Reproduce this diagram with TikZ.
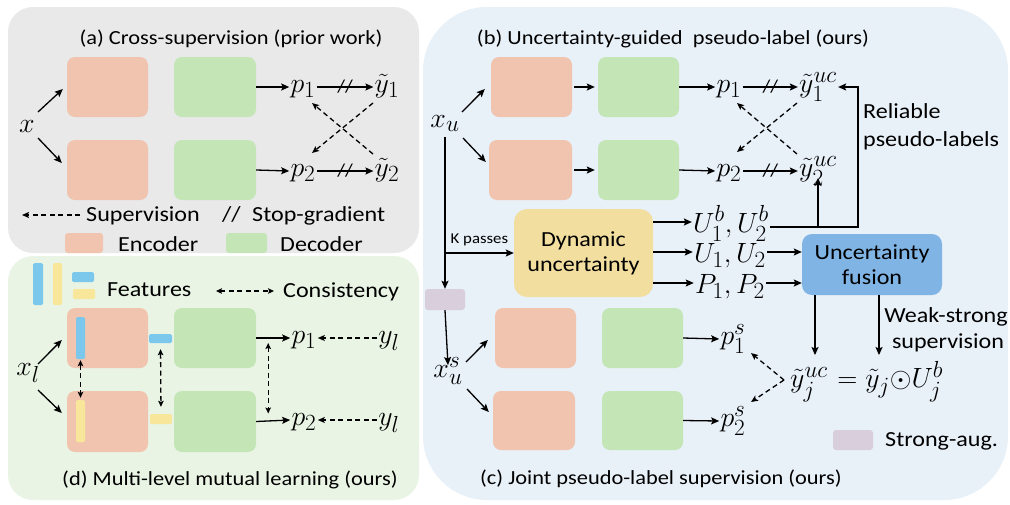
\documentclass[tikz,border=0pt]{standalone}
\usepackage[no-math]{fontspec}
\setmainfont{Carlito}[FakeStretch=1.12]
\usepackage{amsmath}
\usetikzlibrary{arrows.meta,calc}

\definecolor{encC}{HTML}{F0C4AE}
\definecolor{decC}{HTML}{C4E6B6}
\definecolor{panA}{HTML}{E9E9E9}
\definecolor{panD}{HTML}{E9F4E4}
\definecolor{panB}{HTML}{E8F0F8}
\definecolor{dynC}{HTML}{F2DE9E}
\definecolor{fusC}{HTML}{80B4E4}
\definecolor{augC}{HTML}{D8CEDC}
\definecolor{featB}{HTML}{7CC8EC}
\definecolor{featY}{HTML}{F8E69A}

\tikzset{
  blk/.style={rounded corners=8pt, inner sep=0pt},
  encbox/.style={blk, fill=encC, minimum width=81pt, minimum height=60pt},
  decbox/.style={blk, fill=decC, minimum width=82pt, minimum height=60pt},
  bar/.style={rounded corners=1.5pt, inner sep=0pt},
  % math labels: 24.88pt Computer Modern, enlarged by the node scale
  mth/.style={font=\fontsize{24.88}{30}\selectfont, scale=1.12, inner sep=1pt, text height=10pt, text depth=0pt},
  mthU/.style={mth, text height=18pt},
  lbl/.style={font=\fontsize{21.5}{26}\selectfont, inner sep=0pt},
  ttl/.style={font=\fontsize{20}{24}\selectfont, inner sep=0pt, anchor=base},
  small/.style={font=\fontsize{15}{18}\selectfont, inner sep=0pt},
  arr/.style={line width=1.3pt, -{Stealth[length=8pt,width=7pt,inset=1.5pt]}},
  supv/.style={line width=1.3pt, dash pattern=on 5pt off 3.5pt, -{Stealth[length=7pt,width=6pt,inset=1.5pt]}},
  cons/.style={line width=1.3pt, dash pattern=on 5pt off 3.5pt,
    {Stealth[length=6pt,width=5.5pt,inset=1.2pt]}-{Stealth[length=6pt,width=5.5pt,inset=1.2pt]}},
  sgmark/.style={font=\fontsize{18}{20}\selectfont, inner sep=0pt},
}

\begin{document}
\begin{tikzpicture}[x=1pt,y=-1pt]
\useasboundingbox (0,0) rectangle (1010,504);

% panel backgrounds
\fill[panA, rounded corners=25pt] (8,7) rectangle (419,253);
\fill[panD, rounded corners=25pt] (8,256) rectangle (419,500);
\fill[panB, rounded corners=64pt] (423,7) rectangle (1008,500);

% ---------------- (a) cross-supervision ----------------
\node[ttl] (ta) at (231,44.5) {(a) Cross-supervision (prior work)};
\node[encbox] (ae1) at (107.5,87) {};
\node[encbox] (ae2) at (107.5,170) {};
\node[decbox] (ad1) at (215,87) {};
\node[decbox] (ad2) at (215,170) {};
\node[mth] (ax) at (27,127) {$x$};
\node[mth] (ap1) at (303,87) {$p_1$};
\node[mth] (ap2) at (303,171) {$p_2$};
\node[mth] (ay1) at (387,87) {$\tilde{y}_1$};
\node[mth] (ay2) at (387,171) {$\tilde{y}_2$};

\draw[arr] ($(ax)+(11,-15)$) -- ($(ae1.west)+(-4,2)$);
\draw[arr] ($(ax)+(11,11)$) -- ($(ae2.west)+(-5,-7)$);
\draw[arr] (ad1.east) -- (ap1.west);
\draw[arr] (ad2.east) -- (ap2.west);
\draw[arr] (ap1.east) -- node[sgmark] (sga1) {//} (ay1.west);
\draw[arr] (ap2.east) -- node[sgmark] (sga2) {//} (ay2.west);
\draw[supv] ($(ay1)+(-14,16)$) -- ($(ap2)+(9,-18)$);
\draw[supv] ($(ay2)+(-14,-17)$) -- ($(ap1)+(9,16)$);

% legend of (a)
\coordinate (ls1) at (80,215);
\coordinate (ls0) at (22,215);
\draw[supv] (ls1) -- (ls0);
\node[lbl, anchor=base west] (lsup) at (86,221) {Supervision};
\node[lbl, anchor=base west] (lsg) at (222,221) {//};
\node[lbl, anchor=base west] (lstop) at (252,221) {Stop-gradient};
\node[bar, fill=encC, minimum width=38pt, minimum height=20pt, rounded corners=3pt] (lenc) at (84,243) {};
\node[lbl, anchor=base west] (lenct) at (118,251) {Encoder};
\node[bar, fill=decC, minimum width=41pt, minimum height=20pt, rounded corners=3pt] (ldec) at (246.5,243) {};
\node[lbl, anchor=base west] (ldect) at (280,251) {Decoder};

% ---------------- (d) multi-level mutual learning ----------------
\node[bar, fill=featB, minimum width=10pt, minimum height=42pt] (lfb1) at (38,284) {};
\node[bar, fill=featY, minimum width=9pt, minimum height=42pt] (lfy1) at (57.5,284) {};
\node[bar, fill=featB, minimum width=22pt, minimum height=10pt] (lfb2) at (83,277) {};
\node[bar, fill=featY, minimum width=22pt, minimum height=10pt] (lfy2) at (84,294) {};
\node[lbl, anchor=base west] (lfeat) at (107,296) {Features};
\coordinate (lc0) at (216,291);
\coordinate (lc1) at (274,291);
\draw[cons] (lc0) -- (lc1);
\node[lbl, anchor=base west] (lcons) at (283,297) {Consistency};

\node[encbox] (de1) at (107.5,338) {};
\node[encbox, minimum height=61pt] (de2) at (107.5,421.5) {};
\node[decbox] (dd1) at (215,338) {};
\node[decbox, minimum height=61pt] (dd2) at (215,421.5) {};
\node[bar, fill=featB, minimum width=9pt, minimum height=42pt] (fb1) at (80.5,338) {};
\node[bar, fill=featY, minimum width=9pt, minimum height=42pt] (fy1) at (80.5,421) {};
\node[bar, fill=featB, minimum width=23pt, minimum height=9pt] (fb2) at (160.5,338.5) {};
\node[bar, fill=featY, minimum width=22pt, minimum height=10pt] (fy2) at (161,419) {};
\node[mth] (dxl) at (28,370) {$x_l$};
\node[mth] (dp1) at (304,338) {$p_1$};
\node[mth] (dp2) at (304,420) {$p_2$};
\node[mth] (dyl1) at (389,338) {$y_l$};
\node[mth] (dyl2) at (389,420) {$y_l$};

\draw[arr] ($(dxl)+(10,-6)$) -- ($(de1.west)+(-5,2)$);
\draw[arr] ($(dxl)+(10,20)$) -- ($(de2.west)+(-5,-8.5)$);
\draw[arr] (dd1.east) -- (dp1.west);
\draw[arr] (dd2.east) -- (dp2.west);
\draw[supv] (dyl1.west) -- (dp1.east);
\draw[supv] (dyl2.west) -- (dp2.east);
\draw[cons, shorten <=1pt, shorten >=2pt] (fb1.south) -- (fy1.north);
\draw[cons, shorten <=6pt, shorten >=7pt] (fb2.south) -- (fy2.north);
\draw[cons] ($(dd1.east)+(12,5)$) -- ($(dd2.east)+(12,-8)$);
\node[ttl] (td) at (230,485) {(d) Multi-level mutual learning (ours)};

% ---------------- (b) uncertainty-guided pseudo-label ----------------
\node[ttl] (tb) at (673,44) {(b) Uncertainty-guided\ \ pseudo-label (ours)};
\node[encbox] (be1) at (531.5,87) {};
\node[encbox, minimum width=83pt] (be2) at (530.5,170) {};
\node[decbox, minimum width=81pt] (bd1) at (638.5,87) {};
\node[decbox, minimum width=81pt] (bd2) at (638.5,170) {};
\node[mth] (bxu) at (445,122) {$x_u$};
\node[mth] (bp1) at (729,87) {$p_1$};
\node[mth] (bp2) at (729,171) {$p_2$};
\node[mth] (by1) at (818,87) {$\tilde{y}_1^{uc}$};
\node[mth] (by2) at (818,171) {$\tilde{y}_2^{uc}$};

\draw[arr] ($(bxu)+(17,-10)$) -- ($(be1.west)+(-6,2)$);
\draw[arr] ($(bxu)+(18,16)$) -- ($(be2.west)+(-3,-8)$);
\draw[arr, shorten <=2pt, shorten >=3pt] (be1.east) -- (bd1.west);
\draw[arr, shorten <=2pt, shorten >=3pt] (be2.east) -- (bd2.west);
\draw[arr] (bd1.east) -- (bp1.west);
\draw[arr] (bd2.east) -- (bp2.west);
\draw[arr] (bp1.east) -- node[sgmark] (sgb1) {//} (by1.west);
\draw[arr] (bp2.east) -- node[sgmark] (sgb2) {//} (by2.west);
\draw[supv] ($(by1)+(-21,16)$) -- ($(bp2)+(8,-19)$);
\draw[supv] ($(by2)+(-21,-17)$) -- ($(bp1)+(8,16)$);

% strong augmentation and dynamic uncertainty
\node[blk, fill=augC, rounded corners=3pt, minimum width=40pt, minimum height=21pt] (sa) at (445,299.5) {};
\node[blk, fill=dynC, rounded corners=13pt, minimum width=139pt, minimum height=88pt,
      lbl, align=center] (dyn) at (583.5,253) {Dynamic\\[-1pt]uncertainty};
\draw[arr, shorten <=8pt] (bxu.south -| sa.north) -- (sa.north);
\draw[arr] (sa.north |- dyn.west) -- node[small, above=6pt] (kp) {K passes} (dyn.west);

\node[mthU] (bub) at (731,222) {$U_1^b,U_2^b$};
\node[mthU] (buu) at (730,252) {$U_1,U_2$};
\node[mthU] (bpp) at (730,283) {$P_1,P_2$};
\draw[arr] (dyn.east |- bub) -- (bub.west);
\draw[arr] (dyn.east |- buu) -- (buu.west);
\draw[arr] (dyn.east |- bpp) -- (bpp.west);

\node[blk, fill=fusC, rounded corners=10pt, minimum width=140pt, minimum height=61pt,
      lbl, align=center] (fu) at (872,264.5) {Uncertainty\\[-1pt]fusion};
\draw[arr] (buu.east) -- (buu.east -| fu.west);
\draw[arr] (bpp.east) -- (bpp.east -| fu.west);

% reliable pseudo-labels fed back
\coordinate (rj) at (858,227);
\draw[arr] (bub.east |- rj) -- (rj) |- (by1.east);
\draw[arr, shorten >=0pt] (by2 |- rj) -- (by2.south);
\node[lbl, anchor=base west] (rel1) at (863,118) {Reliable};
\node[lbl, anchor=base west] (rel2) at (863,146) {pseudo-labels};

% ---------------- (c) joint pseudo-label supervision ----------------
\node[encbox] (ble1) at (535.5,338) {};
\node[encbox, minimum width=82pt, minimum height=59pt] (ble2) at (534,420.5) {};
\node[decbox, minimum width=81pt] (bld1) at (642.5,338) {};
\node[decbox, minimum width=81pt, minimum height=59pt] (bld2) at (642.5,420.5) {};
\node[mth] (bxus) at (448,372) {$x_u^s$};
\node[mth] (bps1) at (733,339) {$p_1^s$};
\node[mth] (bps2) at (733,421) {$p_2^s$};
\node[mth] (yj) at (809,382) {$\tilde{y}_j^{uc}$};
\node[mth, anchor=west] (eqn) at ($(yj.east)+(7,0)$) {$=\tilde{y}_j{\odot}U_j^b$};

\draw[arr] (sa.south) -- (bxus.north);
\draw[arr] ($(bxus)+(18,-10)$) -- ($(ble1.west)+(-7,2)$);
\draw[arr] ($(bxus)+(19,17)$) -- ($(ble2.west)+(-4,-8.5)$);
\draw[arr] (bld1.east) -- (bps1.west);
\draw[arr] (bld2.east) -- (bps2.west);
\draw[supv] ($(yj)+(-25,-2)$) -- ($(bps1)+(18,14)$);
\draw[supv] ($(yj)+(-25,-2)$) -- ($(bps2)+(18,-19)$);

\coordinate (fa) at ([xshift=-57pt]fu.south);
\coordinate (fb) at ([xshift=7pt]fu.south);
\draw[arr, shorten >=20pt] (fa) -- (fa |- yj.north);
\draw[arr, shorten >=20pt] (fb) -- (fb |- eqn.north);
\node[lbl, anchor=base] (ws1) at (946,322) {Weak-strong};
\node[lbl, anchor=base] (ws2) at (948,348) {supervision};

\node[blk, fill=augC, rounded corners=3pt, minimum width=40pt, minimum height=20pt] (lsa) at (853,440) {};
\node[lbl, anchor=base west] (lsat) at (885,446) {Strong-aug.};
\node[ttl] (tc) at (661,484) {(c) Joint pseudo-label supervision (ours)};
\end{tikzpicture}
\end{document}
